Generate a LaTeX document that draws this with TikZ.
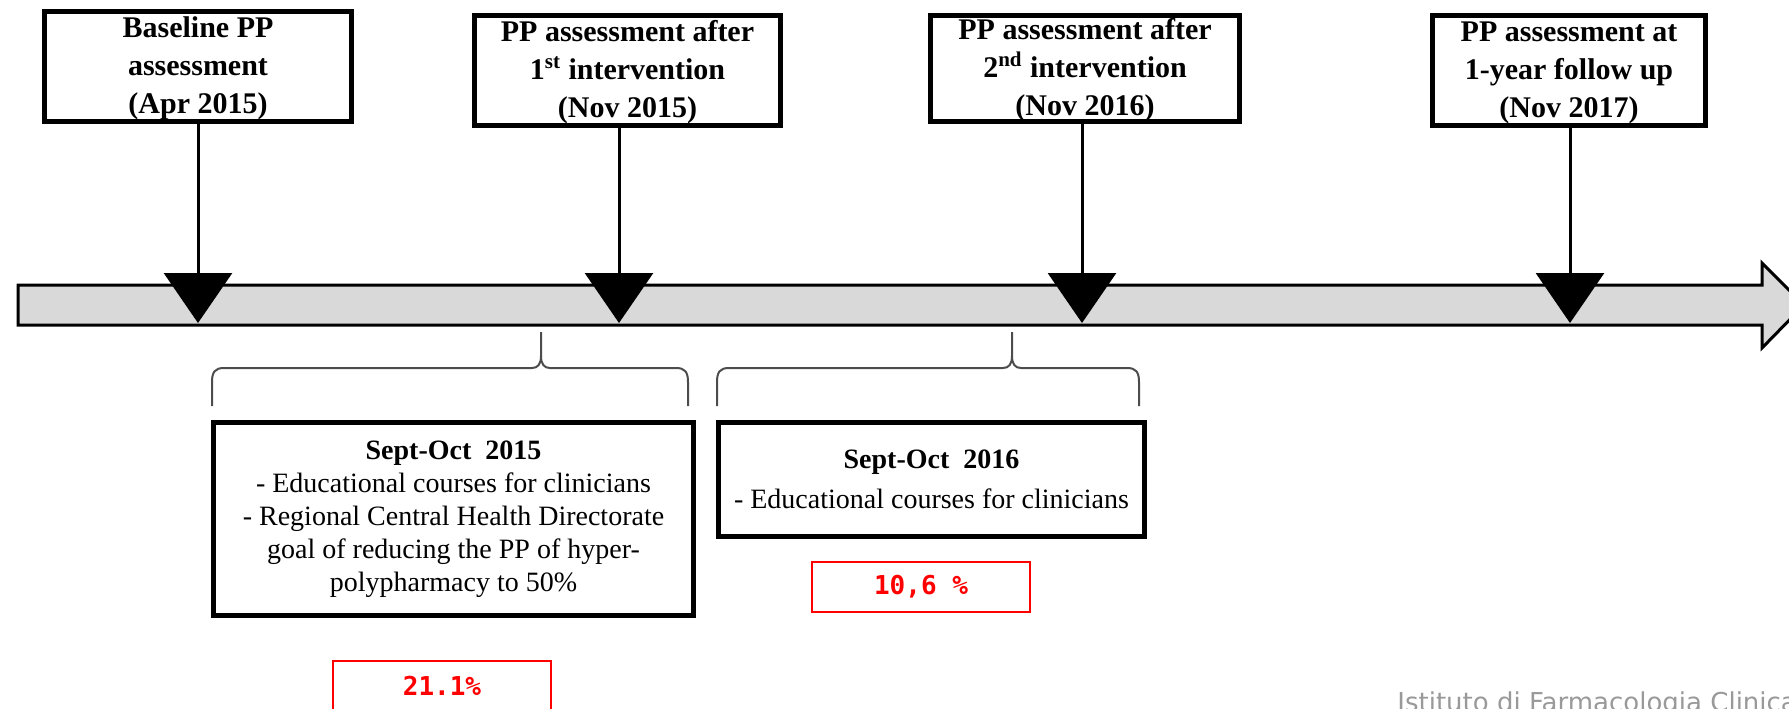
\documentclass[tikz,border=0pt]{standalone}
\usepackage{fontspec}
\setmainfont{Liberation Serif}
\newfontfamily\resultfont{DejaVu Sans Mono}
\newfontfamily\instfont{DejaVu Sans}
\usetikzlibrary{arrows.meta, positioning}
\newcommand{\boxlines}[1]{\begin{tabular}{@{}c@{}}#1\end{tabular}}

\begin{document}
\begin{tikzpicture}[
  x=0.5pt, y=-0.5pt,
  assess/.style={rectangle, draw, line width=2.5pt, minimum height=55pt, inner sep=1pt, text height=29.25pt, text depth=20.75pt, font=\fontsize{15}{19}\selectfont\bfseries},
  phase/.style={rectangle, draw, line width=2.5pt, inner sep=1pt, align=center, font=\fontsize{14}{16.5}\selectfont},
  result/.style={rectangle, draw=red, line width=1pt, minimum width=109pt, minimum height=25pt, inner sep=0pt, text=red, font=\fontsize{13}{15}\selectfont\resultfont\bfseries},
  arr/.style={-{Triangle[length=25pt, width=34pt]}, line width=1.5pt},
  brace/.style={black!70, line width=1pt},
]
  \useasboundingbox (0,0) rectangle (1789,708);

  % Timeline bar
  \draw[fill=black!15, line width=1.5pt] (18,285) -- (1762,285) -- (1762,263) -- (1804,305)
    -- (1762,348) -- (1762,325) -- (18,325) -- cycle;
  \coordinate (t1) at (198,323);
  \coordinate (t2) at (619,323);
  \coordinate (t3) at (1082,323);
  \coordinate (t4) at (1570,323);

  % Assessments
  \node[assess, minimum width=153.5pt] (base) at (198,66.5) {\boxlines{Baseline PP\\assessment\\(Apr 2015)}};
  \node[assess, minimum width=153pt] (first) at (627.5,70.5) {\boxlines{PP assessment after\\1\textsuperscript{st} intervention\\(Nov 2015)}};
  \node[assess, minimum width=154.5pt, minimum height=53pt] (second) at (1085,68.5) {\boxlines{PP assessment after\\2\textsuperscript{nd} intervention\\(Nov 2016)}};
  \node[assess, minimum width=136.5pt] (follow) at (1569,70.5) {\boxlines{PP assessment at\\1-year follow up\\(Nov 2017)}};

  \foreach \b/\t in {base/t1, first/t2, second/t3, follow/t4} {
    \draw[arr] (\b.south -| \t) -- (\t);
  }

  % Braces under the bar
  \foreach \l/\m/\r in {212/541/688, 717/1012/1139} {
    \draw[brace] (\l,406) -- (\l,382) .. controls (\l,372) and ({\l+3},368) .. ({\l+12},368)
      -- ({\m-9},368) .. controls ({\m-3},368) and (\m,364) .. (\m,356) -- (\m,332);
    \draw[brace] (\m,356) .. controls (\m,364) and ({\m+3},368) .. ({\m+9},368)
      -- ({\r-12},368) .. controls ({\r-3},368) and (\r,372) .. (\r,382) -- (\r,406);
  }

  % Interventions
  \node[phase, minimum width=240pt, minimum height=96.5pt] (phase1) at (453.5,519) {\textbf{Sept-Oct~ 2015}\\- Educational courses for clinicians\\- Regional Central Health Directorate\\goal of reducing the PP of hyper-\\polypharmacy to 50\%};
  \node[phase, minimum width=213pt, minimum height=57pt] (phase2) at (931.5,479.5) {\textbf{Sept-Oct~ 2016}\\[3.5pt]- Educational courses for clinicians};

  % Results
  \node[result, below=21pt of phase1, xshift=-5.75pt] (res1) {21.1\%};
  \node[result, below=11pt of phase2, xshift=-5.25pt] (res2) {10,6 \%};

  \node[anchor=base west, inner sep=0pt, text=black!40, font=\fontsize{13}{15}\selectfont\instfont] (inst) at (1397,711) {Istituto di Farmacologia Clinica};
\end{tikzpicture}
\end{document}
